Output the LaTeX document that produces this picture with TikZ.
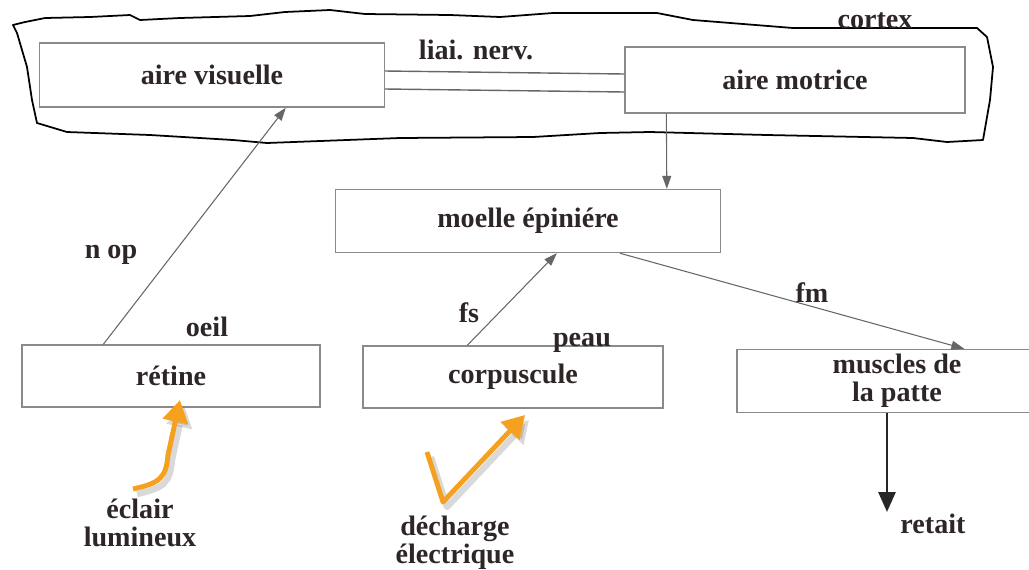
\documentclass[tikz,border=0pt]{standalone}
\usepackage{fontspec}
\setmainfont{Liberation Serif}
\usepackage{tikz}
\usetikzlibrary{arrows.meta, positioning, calc}
\definecolor{ink}{HTML}{2E2626}
\definecolor{boxline}{HTML}{8A8A8A}
\definecolor{wire}{HTML}{666666}
\definecolor{flash}{HTML}{F5A01E}

\begin{document}
\begin{tikzpicture}[
    x=0.02cm, y=-0.02cm,
    box/.style={draw=boxline, line width=0.8pt, minimum height=1.26cm, inner sep=0pt,
                font=\fontsize{16}{16}\selectfont\bfseries, text=ink, align=center},
    lbl/.style={font=\fontsize{16}{16}\selectfont\bfseries, text=ink, align=center, inner sep=0pt},
    arrow/.style={-{Triangle[length=2.6mm, width=1.8mm]}, wire, line width=0.6pt},
    bigarrow/.style={-{Triangle[length=4mm, width=3.4mm]}, black!85, line width=1.6pt},
    hint/.style={-{Triangle[length=4.4mm, width=5mm]}, flash, line width=2.8pt, line join=round},
    hintshadow/.style={hint, draw=gray, opacity=0.3, line width=3.6pt},
    cortexline/.style={black, line width=1pt, line join=round},
]
    \useasboundingbox (0,0) rectangle (1029,569);
    \clip (0,0) rectangle (1029,569);

    % cortex outline
    \draw[cortexline] (13,25) -- (25,22) -- (45,18) -- (90,17) -- (130,15) -- (140,20)
        -- (180,18) -- (250,16) -- (285,12) -- (330,10) -- (365,14) -- (450,15) -- (500,17)
        -- (553,13) -- (657,13) -- (693,20) -- (793,28) -- (977,28) -- (987,37) -- (993,67)
        -- (990,100) -- (983,140) -- (947,142) -- (913,138) -- (767,135) -- (650,132)
        -- (600,133) -- (533,137) -- (400,138) -- (267,143) -- (233,140) -- (150,135)
        -- (67,132) -- (37,123) -- (32,100) -- (27,67) -- (17,33) -- cycle;
    \node[lbl] (cortexlbl) at (875,21) {cortex};

    \node[box, minimum width=6.9cm, minimum height=1.28cm] (visuelle) at (212,75) {aire visuelle};
    \node[box, minimum width=6.8cm, minimum height=1.32cm] (motrice) at (795,80) {aire motrice};
    \node[box, minimum width=7.7cm] (moelle) at (528,221) {moelle épiniére};
    \node[box, minimum width=5.96cm, minimum height=1.24cm] (retine) at (171,376) {rétine};
    \node[box, minimum width=6cm, minimum height=1.24cm] (corpuscule) at (513,377) {corpuscule};
    \node[box, minimum width=6.4cm] (muscles) at (897,381) {muscles de\\la patte};

    \draw[wire, line width=0.8pt] ($(visuelle.east)+(0,-4)$) -- ($(motrice.west)+(0,-6)$);
    \draw[wire, line width=0.8pt] ($(visuelle.east)+(0,14)$) -- ($(motrice.west)+(0,12)$);
    \node[lbl] (liai) at (476,50) {liai. nerv.};

    \draw[arrow] ($(retine.north west)+(82,0)$) -- ($(visuelle.south west)+(247,0)$);
    \draw[arrow] ($(motrice.south west)+(42,0)$) -- ($(moelle.north west)+(332,0)$);
    \draw[arrow] ($(corpuscule.north west)+(105,0)$) -- ($(moelle.south west)+(222,0)$);
    \draw[arrow] ($(moelle.south west)+(285,0)$) -- ($(muscles.north west)+(228,0)$);
    \coordinate (retaitpt) at (887,512);
    \draw[bigarrow] (muscles.south west -| retaitpt) -- (retaitpt);

    \node[lbl] (nop) at (111,255) {n op};
    \node[lbl] (oeil) at (207,327) {oeil};
    \node[lbl] (fs) at (469,313) {fs};
    \node[lbl] (peau) at (582,343) {peau};
    \node[lbl] (fm) at (812,293) {fm};
    \node[lbl] (retait) at (933,524) {retait};
    \node[lbl] (eclair) at (140,523) {éclair\\lumineux};
    \node[lbl] (decharge) at (455,543) {décharge\\électrique};

    % orange hints
    \coordinate (eclairtail) at (133,489);
    \coordinate (eclairtip) at (180,400);
    \coordinate (dechargetail) at (427,452);
    \coordinate (dechargetip) at (525,415);
    \draw[hintshadow] ($(eclairtail)+(4,5)$) .. controls ($(160,483)+(4,5)$) and ($(166,478)+(4,5)$) .. ($(168,455)+(4,5)$) -- ($(eclairtip)+(4,5)$);
    \draw[hint] (eclairtail) .. controls (160,483) and (166,478) .. (168,455) -- (eclairtip);
    \draw[hintshadow] ($(dechargetail)+(4,5)$) -- ($(443,502)+(4,5)$) -- ($(dechargetip)+(4,5)$);
    \draw[hint] (dechargetail) -- (443,502) -- (dechargetip);
\end{tikzpicture}
\end{document}
